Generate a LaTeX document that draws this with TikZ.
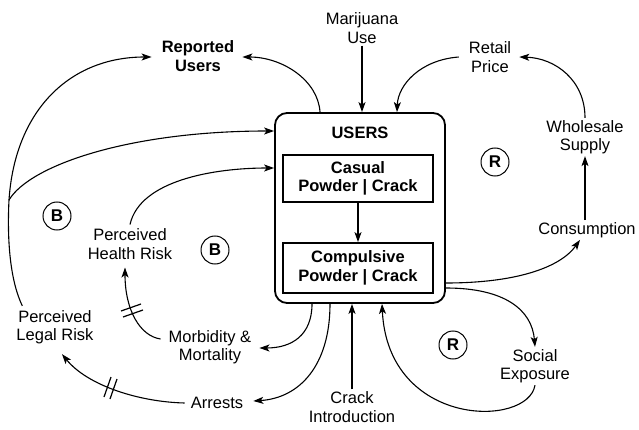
\documentclass[tikz,border=0pt]{standalone}
\usepackage{fontspec}
\setmainfont{Liberation Sans}
\usetikzlibrary{arrows.meta,calc}
\begin{document}
\begin{tikzpicture}[x=1pt,y=-1pt,
  lbl/.style={align=center,inner sep=2pt,font=\fontsize{16.5}{18.5}\selectfont},
  link/.style={line width=1.1pt},
  arr/.style={link,-{Stealth[length=10pt,width=7pt,inset=2.5pt]}},
  loopmark/.style={draw,circle,line width=1pt,minimum size=28pt,inner sep=0pt,font=\fontsize{17}{18}\selectfont\bfseries},
  stage/.style={draw,line width=1.8pt,minimum width=150pt,align=center,inner sep=0pt,font=\fontsize{16.5}{18.5}\selectfont\bfseries},
  slash/.style={line width=1.2pt}
]
\useasboundingbox (0,0) rectangle (639,430);

% stock of users with its two stages
\node[draw,rounded corners=12pt,line width=1.8pt,minimum width=170pt,minimum height=190pt] (users) at (360,208) {};
\node[lbl,font=\fontsize{16.5}{18.5}\selectfont\bfseries] (userslbl) at (360,133) {USERS};
\node[stage,minimum height=47pt] (casual) at (358,178.5) {Casual\\Powder | Crack};
\node[stage,minimum height=50pt] (compulsive) at (358,268) {Compulsive\\Powder | Crack};
\draw[arr] (casual) -- (compulsive);

% surrounding variables
\node[lbl] (marijuana) at (362,28) {Marijuana\\Use};
\node[lbl] (retail) at (490,57) {Retail\\Price};
\node[lbl] (wholesale) at (585,137) {Wholesale\\Supply};
\node[lbl] (consumption) at (587,230) {Consumption};
\node[lbl] (social) at (535,366) {Social\\Exposure};
\node[lbl] (crack) at (352,407) {Crack\\Introduction};
\node[lbl] (arrests) at (217,403) {Arrests};
\node[lbl] (morb) at (210,347) {Morbidity \&\\Mortality};
\node[lbl] (legal) at (55,327) {Perceived\\Legal Risk};
\node[lbl] (health) at (130,244) {Perceived\\Health Risk};
\node[lbl,font=\fontsize{16.5}{18.5}\selectfont\bfseries] (reported) at (198,56) {Reported\\Users};

% loop polarity markers
\node[loopmark] (loopB1) at (57,216) {B};
\node[loopmark] (loopB2) at (215,250) {B};
\node[loopmark] (loopR1) at (495,162) {R};
\node[loopmark] (loopR2) at (453,345) {R};

% inflows at the top of the stock
\draw[arr] (marijuana.south) -- (marijuana.south |- users.north);
\draw[arr] ($(retail.west)+(-8,0)$) .. controls (420,60) and (398,85) .. ($(users.north)+(37,0)$);
\draw[arr] (wholesale.north) .. controls (585,80) and (555,58) .. ($(retail.east)+(6,0)$);
\draw[arr] (consumption.north -| wholesale.south) -- (wholesale.south);

% right-hand reinforcing loops
\draw[arr] ($(users.east)+(0,75)$) .. controls (515,283) and (560,268) .. ($(consumption.south)+(-7,0)$);
\draw[arr] ($(users.east)+(0,80)$) .. controls (505,288) and (532,310) .. (social.north);
\draw[arr] (social.south) .. controls (528,428) and (388,428) .. ($(users.south)+(22,0)$);
\draw[arr] (crack.north) -- (crack.north |- users.south);

% outflows at the bottom of the stock
\draw[arr] ($(users.south)+(-48,0)$) .. controls (312,335) and (292,348) .. ($(morb.east)+(6,1)$);
\draw[arr] ($(users.south)+(-30,0)$) .. controls (330,365) and (300,398) .. ($(arrests.east)+(8,-2)$);

% delayed risk perceptions, each crossed by a delay mark
\draw[arr] ($(arrests.west)+(-4,0)$) .. controls (140,402) and (88,386) .. ($(legal.south)+(7,8)$);
\draw[slash] (104,397) -- (111,377);
\draw[slash] (110,399) -- (117,379);
\draw[arr] ($(morb.west)+(-6,-8)$) .. controls (140,336) and (125,310) .. ($(health.south)+(-5,6)$);
\draw[slash] (121,311) -- (141,304);
\draw[slash] (123,317) -- (143,310);
\draw[arr] ($(health.north)+(0,-2)$) .. controls (140,180) and (215,168) .. ($(users.west)+(0,-40)$);

% legal risk feeding back to users and to reporting
\coordinate (fork) at (9,200);
\draw[link] ($(legal.north west)+(8,-2)$) .. controls (10,280) and (7,240) .. (fork);
\draw[arr] (fork) .. controls (30,165) and (130,131) .. ($(users.west)+(0,-77)$);
\draw[arr] (fork) .. controls (15,110) and (70,57) .. ($(reported.west)+(-8,1)$);
\draw[arr] ($(users.north)+(-40,0)$) .. controls (318,80) and (282,57) .. ($(reported.east)+(6,1)$);
\end{tikzpicture}
\end{document}
